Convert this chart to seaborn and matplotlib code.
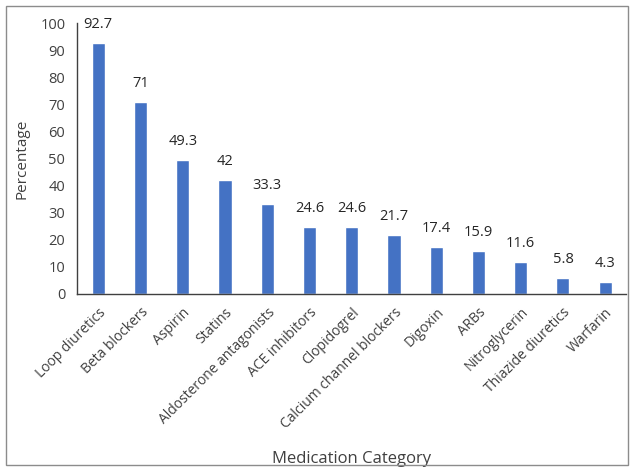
import seaborn as sns
import matplotlib.pyplot as plt
import pandas as pd
from matplotlib.patches import Rectangle
from matplotlib.ticker import FixedLocator

categories = ['Loop diuretics', 'Beta blockers', 'Aspirin', 'Statins',
              'Aldosterone antagonists', 'ACE inhibitors', 'Clopidogrel',
              'Calcium channel blockers', 'Digoxin', 'ARBs', 'Nitroglycerin',
              'Thiazide diuretics', 'Warfarin']
percentages = [92.7, 71, 49.3, 42, 33.3, 24.6, 24.6, 21.7, 17.4, 15.9, 11.6, 5.8, 4.3]
value_labels = ['92.7', '71', '49.3', '42', '33.3', '24.6', '24.6', '21.7',
                '17.4', '15.9', '11.6', '5.8', '4.3']

df = pd.DataFrame({'cat': categories, 'pct': percentages})

sns.set_style('white')
plt.rcParams['font.family'] = ['Open Sans', 'DejaVu Sans']

fig = plt.figure(figsize=(6.32, 4.74), dpi=100)
ax = fig.add_axes([0.122, 0.380, 0.869, 0.571])

sns.barplot(data=df, x='cat', y='pct', color='#4472C4', width=0.31,
            saturation=1, ax=ax)
ax.bar_label(ax.containers[0], labels=value_labels, padding=8,
             fontsize=10.5, color='#262626')

ax.set_ylim(0, 100)
ax.set_yticks(range(0, 101, 10))
ax.set_xlim(-0.5, len(categories) - 0.5)
ax.set_xticks(range(len(categories)))
ax.set_xticklabels(categories, rotation=45, ha='right', rotation_mode='anchor',
                   fontsize=10, color='#404040')
ax.tick_params(axis='x', which='major', length=0, pad=8)
ax.xaxis.set_minor_locator(FixedLocator([i - 0.5 for i in range(len(categories) + 1)]))
ax.tick_params(axis='x', which='minor', length=5, color='#404040', width=1, direction='out')
ax.tick_params(axis='y', length=5, color='#404040', width=1, direction='out',
               labelsize=10.5, labelcolor='#404040')

sns.despine(ax=ax)
for s in ['left', 'bottom']:
    ax.spines[s].set_color('#404040')
    ax.spines[s].set_linewidth(1)

ax.set_ylabel('Percentage', fontsize=11, color='#404040', labelpad=8)
ax.set_xlabel('Medication Category', fontsize=12, color='#404040')
ax.xaxis.set_label_coords(0.5, -0.58)

fig.patches.append(Rectangle((0.009, 0.018), 0.985, 0.970, transform=fig.transFigure,
                             fill=False, edgecolor='#8c8c8c', linewidth=1))

fig.savefig('out.png', dpi=100)
